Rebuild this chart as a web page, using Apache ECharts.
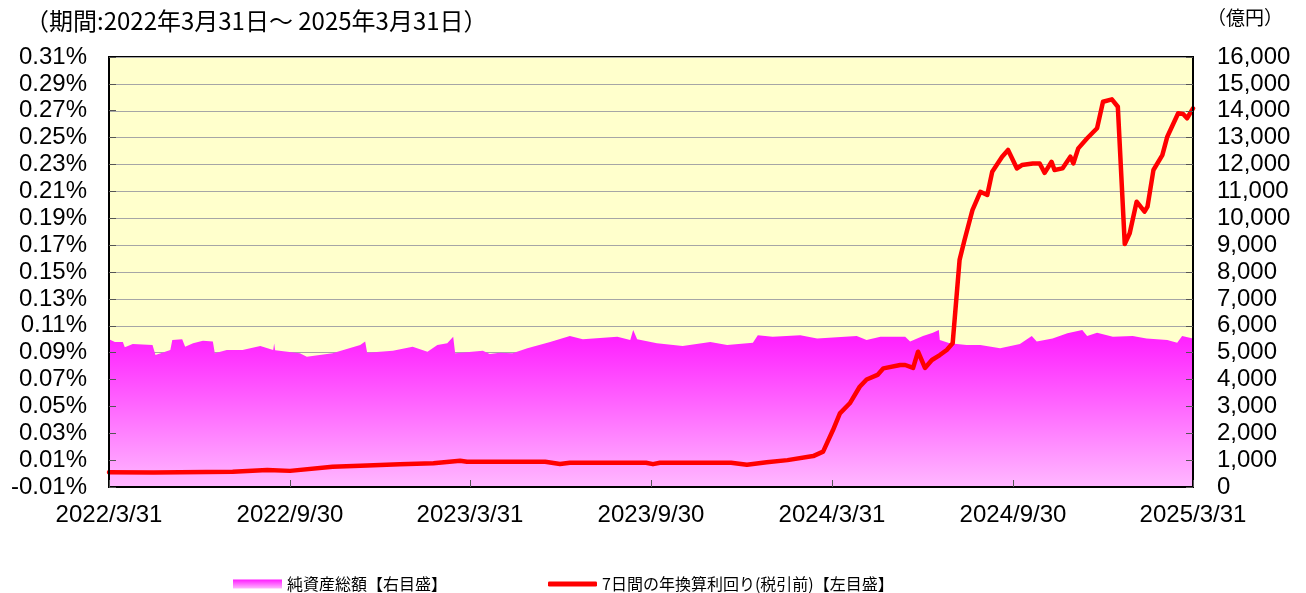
<!DOCTYPE html>
<html><head><meta charset="utf-8">
<script src="https://cdn.jsdelivr.net/npm/echarts@6/dist/echarts.min.js"></script>
<style>html,body{margin:0;padding:0;background:#fff}#c{width:1306px;height:593px}</style>
</head><body><div id="c"></div>
<script>
// ---- data ----
const assetDates = ['2022-03-31','2022-04-06','2022-04-14','2022-04-16','2022-04-24','2022-05-14','2022-05-17','2022-06-01','2022-06-03','2022-06-13','2022-06-16','2022-06-24','2022-07-04','2022-07-14','2022-07-16','2022-07-28','2022-08-13','2022-08-31','2022-09-13','2022-09-14','2022-09-15','2022-10-10','2022-10-17','2022-11-12','2022-12-10','2022-12-15','2022-12-17','2023-01-12','2023-02-01','2023-02-16','2023-02-26','2023-03-08','2023-03-14','2023-03-16','2023-04-13','2023-04-20','2023-04-30','2023-05-13','2023-05-28','2023-06-20','2023-07-10','2023-07-23','2023-08-27','2023-09-09','2023-09-12','2023-09-16','2023-10-06','2023-11-01','2023-11-29','2023-12-16','2024-01-11','2024-01-16','2024-01-31','2024-02-28','2024-03-16','2024-04-25','2024-05-05','2024-05-19','2024-06-13','2024-06-18','2024-07-01','2024-07-11','2024-07-17','2024-07-18','2024-07-28','2024-08-14','2024-08-28','2024-09-17','2024-10-07','2024-10-19','2024-10-24','2024-11-09','2024-11-24','2024-12-09','2024-12-14','2024-12-24','2025-01-09','2025-01-29','2025-02-12','2025-03-05','2025-03-15','2025-03-20','2025-03-31'];
const assetValues = [5500,5400,5400,5200,5320,5280,4910,5100,5470,5500,5220,5350,5440,5410,4980,5100,5100,5250,5100,5340,5090,4975,4850,4975,5280,5410,5000,5070,5220,5035,5280,5350,5590,4975,5070,4950,5000,4975,5160,5400,5620,5500,5590,5470,5840,5500,5350,5250,5400,5280,5370,5650,5590,5650,5530,5620,5470,5590,5590,5410,5620,5740,5840,5470,5350,5280,5280,5160,5320,5620,5410,5530,5720,5840,5620,5740,5590,5620,5530,5470,5370,5620,5530];

const yieldDates = ['2022-03-31','2022-05-15','2022-08-03','2022-09-07','2022-09-30','2022-11-12','2022-12-17','2023-01-19','2023-02-22','2023-03-21','2023-03-28','2023-04-30','2023-06-15','2023-06-30','2023-07-10','2023-09-25','2023-10-02','2023-10-09','2023-12-20','2024-01-05','2024-01-25','2024-02-15','2024-03-12','2024-03-22','2024-04-01','2024-04-08','2024-04-18','2024-04-28','2024-05-05','2024-05-16','2024-05-22','2024-06-08','2024-06-13','2024-06-21','2024-06-26','2024-07-03','2024-07-10','2024-07-18','2024-07-25','2024-07-31','2024-08-07','2024-08-12','2024-08-20','2024-08-28','2024-09-04','2024-09-09','2024-09-19','2024-09-25','2024-10-04','2024-10-09','2024-10-20','2024-10-27','2024-11-01','2024-11-08','2024-11-11','2024-11-19','2024-11-27','2024-11-30','2024-12-05','2024-12-14','2024-12-24','2024-12-30','2025-01-08','2025-01-14','2025-01-21','2025-01-26','2025-02-02','2025-02-10','2025-02-13','2025-02-19','2025-02-28','2025-03-05','2025-03-16','2025-03-21','2025-03-25','2025-03-31'];
const yieldValues = [0.001,0.0008,0.0014,0.0027,0.002,0.005,0.006,0.007,0.0076,0.0096,0.0088,0.0088,0.0088,0.0071,0.008,0.008,0.007,0.008,0.008,0.0066,0.0084,0.010,0.013,0.0163,0.0324,0.0448,0.0523,0.0646,0.070,0.0734,0.0783,0.0808,0.0808,0.0786,0.0907,0.0786,0.0845,0.0882,0.092,0.097,0.159,0.1738,0.196,0.2097,0.2073,0.2246,0.2358,0.2408,0.2271,0.2296,0.2308,0.2308,0.2238,0.232,0.2259,0.2271,0.2358,0.2308,0.242,0.2495,0.257,0.2767,0.2785,0.273,0.1708,0.1788,0.2023,0.1949,0.1986,0.2259,0.237,0.2507,0.2681,0.2676,0.2644,0.2718];

const xTickDates = ['2022-03-31','2022-09-30','2023-03-31','2023-09-30','2024-03-31','2024-09-30','2025-03-31'];
const leftTicks = [-0.01,0.01,0.03,0.05,0.07,0.09,0.11,0.13,0.15,0.17,0.19,0.21,0.23,0.25,0.27,0.29,0.31];

const titleText = '（期間:2022年3月31日～ 2025年3月31日）';
const unitText = '（億円）';
const assetName = '純資産総額【右目盛】';
const yieldName = '7日間の年換算利回り(税引前)【左目盛】';

// ---- chart ----
function ts(s){const p=s.split('-');return Date.UTC(+p[0],+p[1]-1,+p[2]);}
const numFont = 'Liberation Sans';
const jpFont = 'Noto Sans CJK JP';
const chart = echarts.init(document.getElementById('c'));
const grad = new echarts.graphic.LinearGradient(0,0,0,1,[{offset:0,color:'#ff1aff'},{offset:1,color:'#ffb8ff'}]);
chart.setOption({
  animation:false,
  textStyle:{fontFamily:numFont},
  title:[
    {text:titleText,left:20,top:4,textStyle:{fontFamily:jpFont,fontSize:24,fontWeight:'normal',color:'#000'}},
    {text:unitText,left:1202,top:3,textStyle:{fontFamily:jpFont,fontSize:19,fontWeight:'normal',color:'#000'}}
  ],
  legend:[
    {left:228,top:571,itemWidth:49,itemHeight:9,itemGap:5,textStyle:{fontFamily:jpFont,fontSize:16,color:'#000'},
     data:[{name:assetName,icon:'rect',itemStyle:{color:grad}}]},
    {left:543,top:571,itemWidth:49,itemHeight:5,itemGap:5,textStyle:{fontFamily:jpFont,fontSize:16,color:'#000'},
     data:[{name:yieldName,icon:'roundRect',itemStyle:{color:'#ff0000'}}]}
  ],
  grid:{left:109,right:113,top:57,bottom:106,show:true,backgroundColor:'#ffffcc',borderColor:'#000',borderWidth:2},
  xAxis:{type:'value',min:ts('2022-03-31'),max:ts('2025-03-31'),z:10,
    axisLine:{show:true,onZero:false,lineStyle:{color:'#000',width:2}},
    axisTick:{show:true,inside:true,length:7,lineStyle:{color:'#555',width:1},customValues:xTickDates.map(ts)},
    axisLabel:{show:true,fontSize:24,color:'#000',margin:16,fontFamily:numFont,customValues:xTickDates.map(ts),
      formatter:function(v){const d=new Date(v);return d.getUTCFullYear()+'/'+(d.getUTCMonth()+1)+'/'+d.getUTCDate();}},
    splitLine:{show:false}},
  yAxis:[
    {type:'value',position:'left',min:-0.01,max:0.31,z:10,
     axisLine:{show:true,onZero:false,lineStyle:{color:'#000',width:2}},
     axisTick:{show:true,inside:true,length:7,lineStyle:{color:'#555',width:1},customValues:leftTicks},
     axisLabel:{fontSize:24,color:'#000',margin:22,fontFamily:numFont,customValues:leftTicks,formatter:function(v){return v.toFixed(2)+'%';}},
     splitLine:{show:false}},
    {type:'value',position:'right',min:0,max:16000,interval:1000,z:10,
     axisLine:{show:true,onZero:false,lineStyle:{color:'#000',width:2}},
     axisTick:{show:true,inside:true,length:7,lineStyle:{color:'#555',width:1}},
     axisLabel:{fontSize:24,color:'#000',margin:24,fontFamily:numFont,formatter:function(v){return v.toLocaleString('en-US');}},
     splitLine:{show:false}},
    {type:'value',position:'right',min:0,max:16000,interval:1000,z:0,
     axisLine:{show:false},axisTick:{show:false},axisLabel:{show:false},
     splitLine:{show:true,lineStyle:{color:'#a6a6a6',width:1}}}
  ],
  series:[
    {name:assetName,type:'line',yAxisIndex:1,symbol:'none',
     data:assetDates.map((d,i)=>[ts(d),assetValues[i]]),
     lineStyle:{width:0},itemStyle:{color:grad},areaStyle:{color:grad,opacity:1}},
    {name:yieldName,type:'line',yAxisIndex:0,symbol:'none',
     data:yieldDates.map((d,i)=>[ts(d),yieldValues[i]]),
     lineStyle:{color:'#ff0000',width:4.5,cap:'round',join:'round'},itemStyle:{color:'#ff0000'}}
  ]
});
</script></body></html>
